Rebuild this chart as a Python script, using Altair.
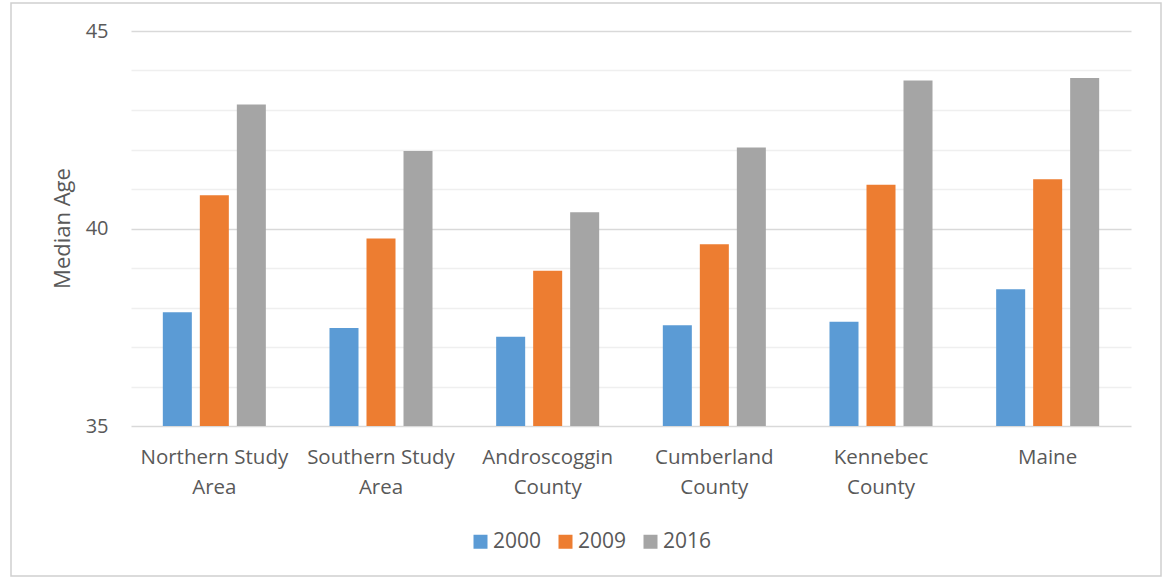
import altair as alt
import pandas as pd

# Median age by area and year
areas = ["Northern Study Area", "Southern Study Area", "Androscoggin County",
         "Cumberland County", "Kennebec County", "Maine"]
years = ["2000", "2009", "2016"]
age_2000 = [37.88, 37.48, 37.26, 37.55, 37.64, 38.46]
age_2009 = [40.84, 39.75, 38.93, 39.60, 41.11, 41.25]
age_2016 = [43.14, 41.96, 40.41, 42.05, 43.75, 43.81]
y_ticks = list(range(35, 46))
colors = ["#5B9BD5", "#ED7D31", "#A5A5A5"]

rows = []
for series_year, series_vals in zip(years, [age_2000, age_2009, age_2016]):
    for area, v in zip(areas, series_vals):
        rows.append({"area": area, "year": series_year, "age": v})
df = pd.DataFrame(rows)

FONT = "Open Sans"
TEXT = "#595959"

label_expr = ("indexof(datum.label, ' ') > 0 ? "
              "[substring(datum.label, 0, lastindexof(datum.label, ' ')), "
              "substring(datum.label, lastindexof(datum.label, ' ') + 1)] : datum.label")

bars = alt.Chart(df).mark_bar(clip=True).encode(
    x=alt.X("area:N", sort=areas,
            scale=alt.Scale(paddingInner=0, paddingOuter=0),
            axis=alt.Axis(title=None, labelAngle=0, labelExpr=label_expr,
                          labelFont=FONT, labelFontSize=20.5, labelColor=TEXT,
                          labelLineHeight=30, labelPadding=21,
                          ticks=False, domain=False, grid=False)),
    xOffset=alt.XOffset("year:N", sort=years,
                        scale=alt.Scale(paddingInner=0.216, paddingOuter=0.86)),
    y=alt.Y("age:Q",
            scale=alt.Scale(domain=[35, 45], zero=False, nice=False),
            axis=alt.Axis(title="Median Age", values=y_ticks,
                          labelExpr="datum.value % 5 === 0 ? datum.label : ''",
                          labelFont=FONT, labelFontSize=20, labelColor=TEXT,
                          labelPadding=23, ticks=False, domain=False,
                          titleFont=FONT, titleFontSize=22, titleColor=TEXT,
                          titleFontWeight="normal", titleX=-69, titleY=197,
                          titleAlign="center", titleBaseline="middle", titleAngle=-90,
                          gridColor=alt.condition("datum.value % 5 === 0",
                                                  alt.value("#d9d9d9"),
                                                  alt.value("#efefef")),
                          gridWidth=1.5)),
    color=alt.Color("year:N", sort=years,
                    scale=alt.Scale(domain=years, range=colors),
                    legend=alt.Legend(title=None, orient="none", direction="horizontal",
                                      legendX=339, legendY=500, padding=0,
                                      symbolType="square", symbolSize=196,
                                      symbolStrokeWidth=0, symbolOpacity=1,
                                      labelFont=FONT, labelFontSize=21, labelColor=TEXT,
                                      labelOffset=2, columnPadding=13)),
)

# Outer frame around the whole figure
frame = alt.Chart(pd.DataFrame({"f": [0]})).mark_rect(
    fill=None, stroke="#d0d0d0", strokeWidth=1.5
).encode(
    x=alt.value(-120), x2=alt.value(1030),
    y=alt.value(-28), y2=alt.value(545),
)

chart = alt.layer(frame, bars).properties(
    width=1000, height=395,
    padding={"left": 131, "top": 31, "right": 35, "bottom": 152},
    autosize=alt.AutoSizeParams(type="none"),
    background="white",
).configure_view(stroke=None)

chart.save("out.html", embed_options={"renderer": "svg", "actions": False})
